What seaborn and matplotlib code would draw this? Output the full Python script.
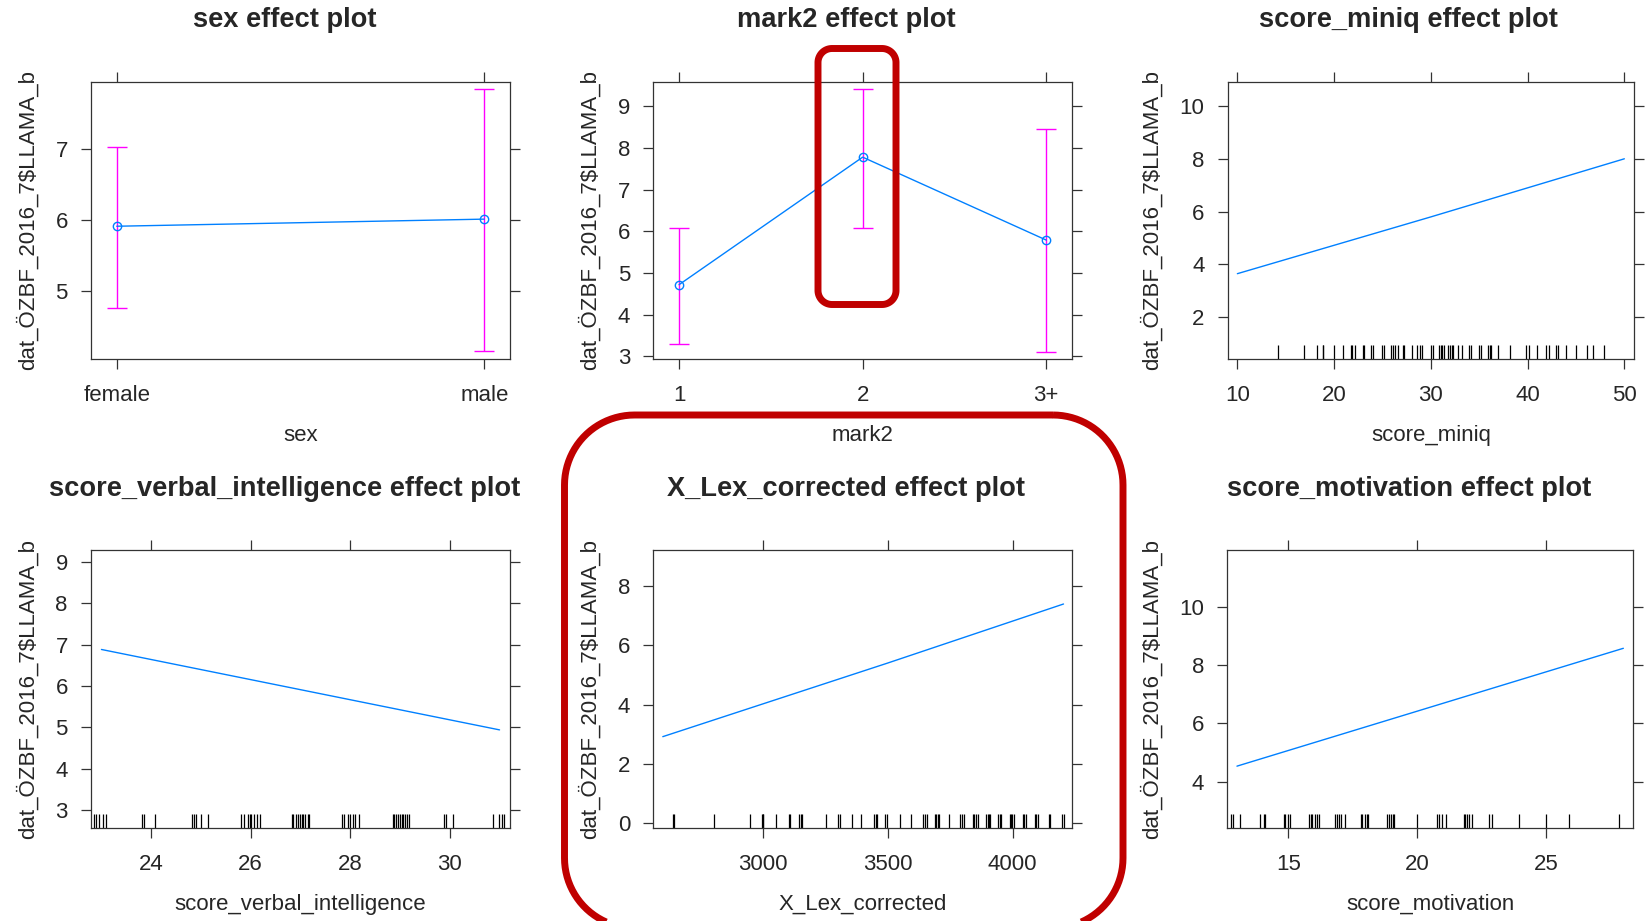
import numpy as np
import pandas as pd
import matplotlib
matplotlib.use("Agg")
import matplotlib.pyplot as plt
import seaborn as sns
from matplotlib.patches import Polygon

# ---- factor predictors: fitted effect with 95% interval ----
sex_levels = ["female", "male"]
sex_fit = [5.91, 6.01]
sex_lower = [4.76, 4.15]
sex_upper = [7.03, 7.84]

mark2_levels = ["1", "2", "3+"]
mark2_fit = [4.72, 7.78, 5.79]
mark2_lower = [3.30, 6.08, 3.11]
mark2_upper = [6.08, 9.41, 8.46]

# ---- numeric predictors: fitted effect lines ----
miniq_x = [10, 30, 50]
miniq_fit = [3.65, 5.80, 8.00]

verbal_x = [23, 31]
verbal_fit = [6.88, 4.94]

lex_x = [2600, 3500, 4204]
lex_fit = [2.92, 5.40, 7.39]

motiv_x = [13, 28]
motiv_fit = [4.53, 8.57]

# ---- observed (jittered) predictor values for the rugs ----
miniq_rug = [14.2, 16.9, 18.2, 18.8, 18.9, 20.0, 20.9, 21.75, 21.9, 22.2, 23.0, 23.1,
             23.8, 24.0, 25.0, 25.2, 25.9, 26.1, 26.3, 26.6, 27.1, 27.2, 28.1, 28.6,
             28.9, 29.1, 30.0, 30.2, 30.8, 31.0, 31.2, 31.4, 31.8, 32.0, 32.2, 32.3,
             32.8, 33.2, 33.9, 34.1, 35.0, 35.2, 35.9, 36.1, 36.2, 36.9, 38.2, 39.8,
             40.1, 41.0, 41.9, 42.2, 42.9, 43.1, 44.0, 45.0, 46.1, 46.8, 47.9]

verbal_rug = [22.86, 22.90, 22.96, 23.03, 23.10, 23.82, 23.86, 24.07, 24.81, 24.86,
              24.90, 25.00, 25.14, 25.80, 25.87, 25.94, 25.98, 26.01, 26.06, 26.12,
              26.18, 26.82, 26.85, 26.90, 26.95, 26.99, 27.03, 27.06, 27.10, 27.15,
              27.18, 27.83, 27.88, 27.95, 27.99, 28.06, 28.10, 28.17, 28.85, 28.88,
              28.92, 28.95, 28.99, 29.03, 29.06, 29.10, 29.15, 29.19, 29.89, 29.93,
              30.06, 30.86, 30.99, 31.04, 31.09]

lex_rug = [2639, 2645, 2806, 2949, 2996, 3000, 3003, 3052, 3107, 3111, 3145, 3152,
           3157, 3254, 3303, 3310, 3358, 3393, 3446, 3453, 3459, 3490, 3497, 3550,
           3594, 3643, 3650, 3657, 3690, 3694, 3700, 3706, 3746, 3790, 3797, 3804,
           3841, 3847, 3855, 3860, 3895, 3900, 3904, 3911, 3942, 3948, 3954, 3991,
           3995, 3999, 4004, 4040, 4047, 4054, 4088, 4095, 4101, 4145, 4151, 4198,
           4204]

motiv_rug = [12.78, 12.85, 13.13, 13.88, 14.04, 14.09, 14.82, 14.88, 14.99, 15.05,
             15.79, 15.86, 15.93, 16.02, 16.12, 16.18, 16.82, 16.89, 16.97, 17.04,
             17.19, 17.80, 17.87, 17.97, 18.06, 18.10, 18.81, 18.92, 18.97, 19.05,
             19.10, 19.98, 20.78, 20.86, 20.95, 21.12, 21.80, 21.86, 21.93, 21.99,
             22.12, 22.80, 22.92, 23.94, 25.00, 25.88, 27.83]

response_label = r"dat_ÖZBF_2016_7\$LLAMA_b"

# ---- style ----
sns.set_theme(style="white")
plt.rcParams["font.family"] = ["Liberation Sans", "DejaVu Sans"]
LINE_BLUE = "#0080FF"
CI_MAGENTA = "#FF00FF"
FRAME = "#333333"
ANNOT_RED = "#C00000"

W, H = 1645, 921
fig = plt.figure(figsize=(W / 100, H / 100), dpi=100)
fig.patch.set_facecolor("white")


def add_panel(left, right, top, bottom):
    return fig.add_axes([left / W, 1 - bottom / H, (right - left) / W, (bottom - top) / H])


def style_axes(ax, xlabel):
    for sp in ax.spines.values():
        sp.set_visible(True)
        sp.set_color(FRAME)
        sp.set_linewidth(0.9)
    ax.tick_params(axis="both", which="major", direction="out", length=7.5, width=0.9,
                   color=FRAME, labelsize=16, top=True, right=True,
                   labeltop=False, labelright=False, bottom=True, left=True)
    ax.tick_params(axis="x", pad=11.5)
    ax.tick_params(axis="y", pad=9.2)
    ax.set_xlabel(xlabel, fontsize=16, labelpad=13.5)
    ax.set_ylabel(response_label, fontsize=16, labelpad=12)
    ax.grid(False)


def factor_panel(ax, levels, fit, lower, upper, xlim, ylim, yticks, xlabel):
    pos = np.arange(len(levels))
    df = pd.DataFrame({"pos": pos, "fit": fit})
    fit_a = np.asarray(fit)
    yerr = [fit_a - np.asarray(lower), np.asarray(upper) - fit_a]
    ax.errorbar(pos, fit_a, yerr=yerr, fmt="none", ecolor=CI_MAGENTA,
                elinewidth=1.0, capsize=7.5, capthick=1.0, zorder=2)
    sns.lineplot(data=df, x="pos", y="fit", ax=ax, color=LINE_BLUE, linewidth=1.0,
                 marker="o", markersize=6, markerfacecolor="none",
                 markeredgecolor=LINE_BLUE, markeredgewidth=1.0, zorder=3)
    ax.set_xticks(pos)
    ax.set_xticklabels(levels)
    ax.set_xlim(*xlim)
    ax.set_ylim(*ylim)
    ax.set_yticks(yticks)
    style_axes(ax, xlabel)


def numeric_panel(ax, x, fit, rug, xlim, ylim, xticks, yticks, xlabel):
    df = pd.DataFrame({"x": x, "fit": fit})
    sns.lineplot(data=df, x="x", y="fit", ax=ax, color=LINE_BLUE, linewidth=1.0)
    sns.rugplot(x=rug, ax=ax, height=0.05, color="black", linewidth=0.9, alpha=1)
    ax.set_xlim(*xlim)
    ax.set_ylim(*ylim)
    ax.set_xticks(xticks)
    ax.set_yticks(yticks)
    style_axes(ax, xlabel)


# row 1
ax1 = add_panel(91, 510, 81.7, 358.7)
factor_panel(ax1, sex_levels, sex_fit, sex_lower, sex_upper,
             (-0.07, 1.07), (4.046, 7.944), [5, 6, 7], "sex")

ax2 = add_panel(653.3, 1072, 81.7, 358.7)
factor_panel(ax2, mark2_levels, mark2_fit, mark2_lower, mark2_upper,
             (-0.14, 2.14), (2.945, 9.59), [3, 4, 5, 6, 7, 8, 9], "mark2")

ax3 = add_panel(1227.7, 1634, 81.7, 358.7)
numeric_panel(ax3, miniq_x, miniq_fit, miniq_rug, (9, 51), (0.43, 10.92),
              [10, 20, 30, 40, 50], [2, 4, 6, 8, 10], "score_miniq")

# row 2
ax4 = add_panel(91, 510, 550, 827.7)
numeric_panel(ax4, verbal_x, verbal_fit, verbal_rug, (22.79, 31.21), (2.58, 9.28),
              [24, 26, 28, 30], [3, 4, 5, 6, 7, 8, 9], "score_verbal_intelligence")

ax5 = add_panel(653.3, 1072, 550, 827.7)
numeric_panel(ax5, lex_x, lex_fit, lex_rug, (2562, 4238), (-0.148, 9.21),
              [3000, 3500, 4000], [0, 2, 4, 6, 8], "X_Lex_corrected")

ax6 = add_panel(1227.3, 1633, 550, 827.7)
numeric_panel(ax6, motiv_x, motiv_fit, motiv_rug, (12.625, 28.375), (2.42, 11.94),
              [15, 20, 25], [4, 6, 8, 10], "score_motivation")

# panel titles
titles = [("sex effect plot", 284.3, 20), ("mark2 effect plot", 846.5, 20),
          ("score_miniq effect plot", 1408.7, 20),
          ("score_verbal_intelligence effect plot", 284.3, 489),
          ("X_Lex_corrected effect plot", 846.5, 489),
          ("score_motivation effect plot", 1408.7, 489)]
for text, tx, ty in titles:
    fig.text(tx / W, 1 - ty / H, text, ha="center", va="center",
             fontsize=19.6, fontweight="bold")


# highlight frames drawn in pixel space
def rounded_outline(x0, y0, x1, y1, r, n=24):
    """Vertices of a rounded rectangle (pixel units, y pointing down)."""
    corners = [(x1 - r, y0 + r, -90, 0), (x1 - r, y1 - r, 0, 90),
               (x0 + r, y1 - r, 90, 180), (x0 + r, y0 + r, 180, 270)]
    pts = []
    for cx, cy, a0, a1 in corners:
        t = np.radians(np.linspace(a0, a1, n))
        pts.append(np.column_stack([cx + r * np.cos(t), cy + r * np.sin(t)]))
    return np.vstack(pts)


overlay = fig.add_axes([0, 0, 1, 1], zorder=10)
overlay.set_xlim(0, W)
overlay.set_ylim(H, 0)
overlay.axis("off")
overlay.patch.set_alpha(0)
overlay.add_patch(Polygon(rounded_outline(818, 48.5, 896, 304.5, 14), closed=True,
                          fill=False, edgecolor=ANNOT_RED, linewidth=5,
                          joinstyle="round"))
overlay.add_patch(Polygon(rounded_outline(564.5, 415, 1123, 928, 70), closed=True,
                          fill=False, edgecolor=ANNOT_RED, linewidth=5,
                          joinstyle="round"))

fig.savefig("out.png", dpi=100, facecolor="white")
